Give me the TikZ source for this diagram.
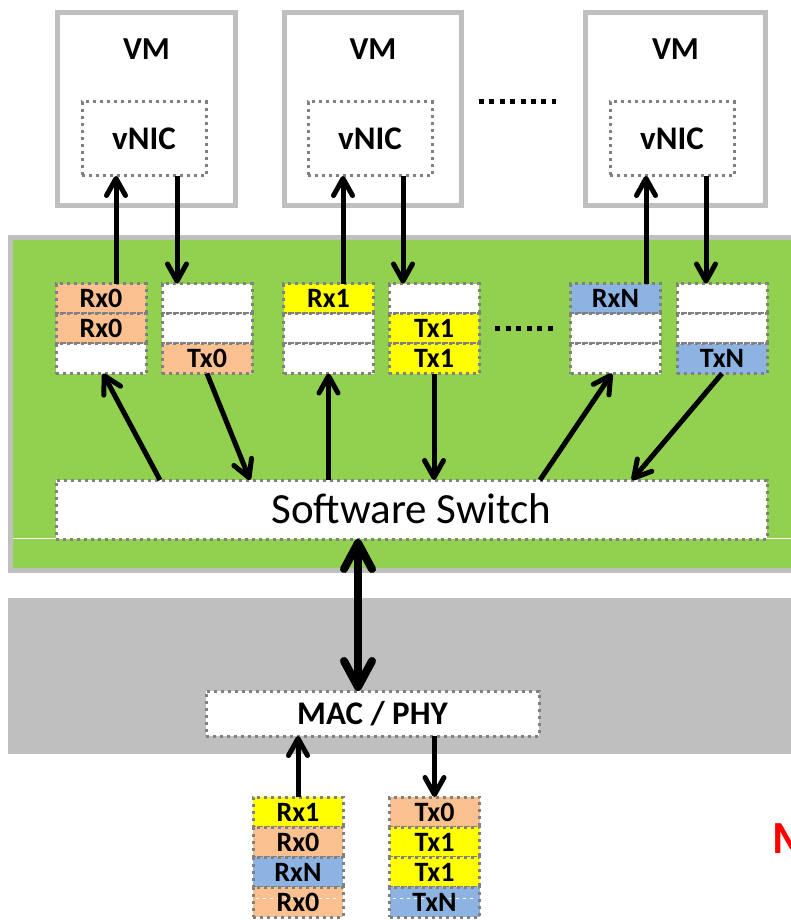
\documentclass[tikz,border=0pt]{standalone}
\usepackage{fontspec}
\setmainfont{Carlito}
\usetikzlibrary{arrows.meta,calc}
\definecolor{frame}{HTML}{BFBFBF}
\definecolor{dotc}{HTML}{808080}
\definecolor{grn}{HTML}{92D050}
\definecolor{rxo}{HTML}{FAC090}
\definecolor{ylw}{HTML}{FFFF00}
\definecolor{blu}{HTML}{8DB3E2}
\newcommand{\fsz}[1]{\fontsize{#1pt}{#1pt}\selectfont}
% one queue slot: name, x, y, fill, text
\newcommand{\slot}[5]{\node[qcell,fill=#4] (#1) at (#2,#3) {#5};}

\begin{document}
\begin{tikzpicture}[x=1pt,y=-1pt,
  vmbox/.style={draw=frame,line width=5pt,fill=white,inner sep=0pt,outer sep=0pt},
  dotbox/.style={draw=dotc,line width=3pt,dash pattern=on 3pt off 4pt,
     fill=white,inner sep=0pt,outer sep=0pt,text depth=0pt},
  % text heights follow the cap height of Carlito (0.644 em)
  qcell/.style={dotbox,minimum width=90pt,minimum height=30pt,
     font=\bfseries\fsz{28},text height=18pt},
  seam/.style={path picture={\draw[white,line width=1pt]
     ($(path picture bounding box.west)+(3,-4)$) -- ($(path picture bounding box.east)+(-3,-4)$);}},
  lbl/.style={font=\bfseries\fsz{32},inner sep=0pt,text height=20.6pt,text depth=0pt},
  nicbox/.style={dotbox,minimum width=124pt,minimum height=74pt,
     font=\bfseries\fsz{33},text height=21.3pt},
  arr/.style={line width=5pt,-{Straight Barb[length=17pt,width=19pt,round]}},
  bigarr/.style={line width=8pt,{Straight Barb[length=26pt,width=28pt,round]}-{Straight Barb[length=26pt,width=28pt,round]}},
  dotline/.style={line width=5pt,dash pattern=on 5pt off 5.4pt}
]
\useasboundingbox (0,0) rectangle (791,920);
\fill[white] (0,0) rectangle (791,920);

% host switch area and NIC band
\draw[draw=frame,line width=5pt,fill=grn] (10.5,237.5) rectangle (805,570.5);
\draw[white,line width=1pt] (13,538) -- (791,538);
\fill[frame] (8,598) rectangle (805,754);

% virtual machines
\node[vmbox,minimum width=178pt,minimum height=193pt] (vm1) at (146.5,109) {};
\node[vmbox,minimum width=177pt,minimum height=193pt] (vm2) at (373,109) {};
\node[vmbox,minimum width=180pt,minimum height=193pt] (vm3) at (675.5,109) {};
\foreach \v in {1,2,3}{
  \node[lbl] (vml\v) at ($(vm\v.north)+(0,36.5)$) {VM};
}
\node[nicbox] (vn1) at (144,139) {vNIC};
\node[nicbox] (vn2) at (370,139) {vNIC};
\node[nicbox] (vn3) at (672,139) {vNIC};
\draw[dotline] (479,102) -- (556,102);

% per-VM queues
\slot{ra1}{101}{298.5}{rxo}{Rx0}
\slot{ra2}{101}{328.5}{rxo}{Rx0}
\slot{ra3}{101}{358.5}{white}{}
\slot{ta1}{207}{298.5}{white}{}
\slot{ta2}{207}{328.5}{white}{}
\slot{ta3}{207}{358.5}{rxo}{Tx0}
\slot{rb1}{328.5}{298.5}{ylw}{Rx1}
\slot{rb2}{328.5}{328.5}{white}{}
\slot{rb3}{328.5}{358.5}{white}{}
\slot{tb1}{434}{298.5}{white}{}
\slot{tb2}{434}{328.5}{ylw}{Tx1}
\slot{tb3}{434}{358.5}{ylw}{Tx1}
\slot{rn1}{615.5}{298.5}{blu}{RxN}
\slot{rn2}{615.5}{328.5}{white}{}
\slot{rn3}{615.5}{358.5}{white}{}
\slot{tn1}{722}{298.5}{white}{}
\slot{tn2}{722}{328.5}{white}{}
\slot{tn3}{722}{358.5}{blu}{TxN}
\draw[dotline,dash pattern=on 5pt off 5.6pt] (495,328) -- (554,328);

% software switch and MAC / PHY
\node[dotbox,minimum width=711pt,minimum height=59pt,font=\fsz{43},text height=27.7pt] (sw) at (411.5,509.5) {Software Switch};
\node[dotbox,minimum width=333pt,minimum height=45pt,font=\bfseries\fsz{33},text height=21.3pt] (mac) at (372.5,713.5) {MAC / PHY};

% wire queues
\slot{wr1}{298}{812}{ylw}{Rx1}
\slot{wr2}{298}{842}{rxo}{Rx0}
\slot{wr3}{298}{872}{blu}{RxN}
\node[qcell,fill=rxo,seam] (wr4) at (298,902) {Rx0};
\slot{wt1}{434.5}{812}{rxo}{Tx0}
\slot{wt2}{434.5}{842}{ylw}{Tx1}
\slot{wt3}{434.5}{872}{ylw}{Tx1}
\node[qcell,fill=blu,seam] (wt4) at (434.5,902) {TxN};

% vNIC <-> queues
\draw[arr] ([xshift=15pt]ra1.north) -- ([xshift=-28pt]vn1.south);
\draw[arr] ([xshift=33pt]vn1.south) -- ([xshift=-30pt]ta1.north);
\draw[arr] ([xshift=14.5pt]rb1.north) -- ([xshift=-27pt]vn2.south);
\draw[arr] ([xshift=33pt]vn2.south) -- ([xshift=-31pt]tb1.north);
\draw[arr] ([xshift=30.5pt]rn1.north) -- ([xshift=-26pt]vn3.south);
\draw[arr] ([xshift=34pt]vn3.south) -- ([xshift=-16pt]tn1.north);

% queues <-> switch
\draw[arr] ([xshift=-251.5pt]sw.north) -- ([xshift=2pt]ra3.south);
\draw[arr] (ta3.south) -- ([xshift=-161.5pt]sw.north);
\draw[arr] (rb3.south |- sw.north) -- (rb3.south);
\draw[arr] (tb3.south) -- (tb3.south |- sw.north);
\draw[arr] ([xshift=128.5pt]sw.north) -- ([xshift=-3.5pt]rn3.south);
\draw[arr] (tn3.south) -- ([xshift=220.5pt]sw.north);

% switch <-> MAC / PHY <-> wire
\draw[bigarr] ([xshift=-53.5pt]sw.south) -- ([xshift=-14.5pt]mac.north);
\draw[arr] (wr1.north) -- (wr1.north |- mac.south);
\draw[arr] (wt1.north |- mac.south) -- (wt1.north);

\node[anchor=base west,inner sep=0pt,text=red,font=\bfseries\fsz{46}] (mlab) at (772,853) {M};
\end{tikzpicture}
\end{document}
